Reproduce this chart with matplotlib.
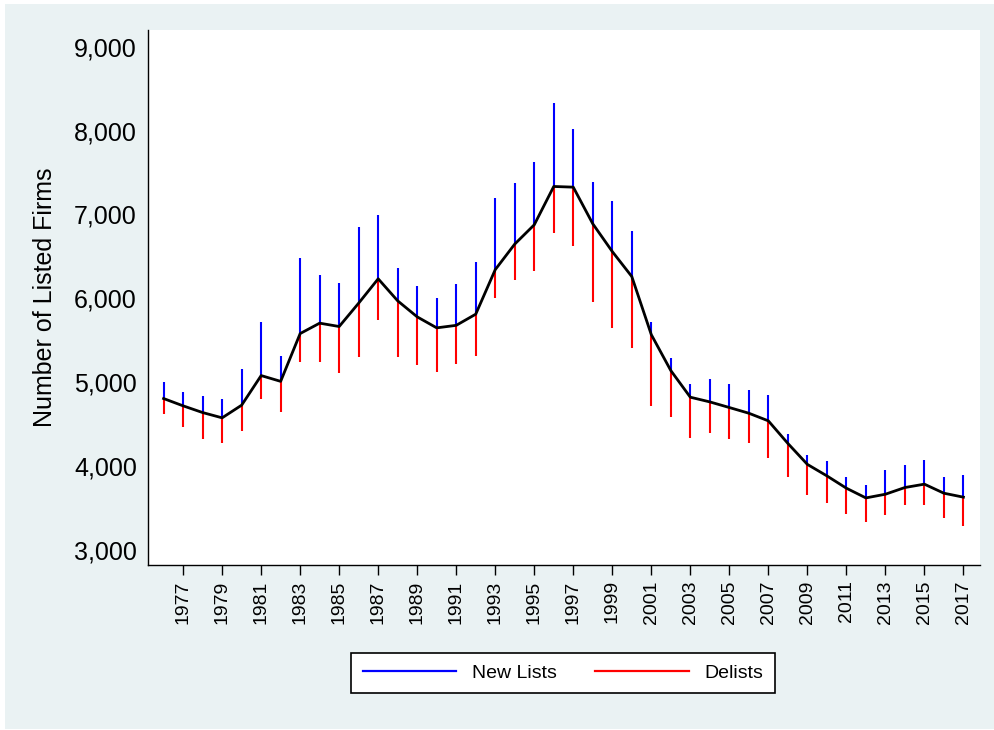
import matplotlib.pyplot as plt
import matplotlib.patches as patches
from matplotlib.ticker import FuncFormatter

plt.rcParams['font.family'] = ['Liberation Sans', 'DejaVu Sans']

# data
years = list(range(1976, 2018))
listed = [4805, 4718, 4638, 4575, 4726, 5079, 5010, 5580, 5704, 5664,
          5943, 6233, 5970, 5779, 5648, 5678, 5811, 6342, 6647, 6877,
          7334, 7326, 6889, 6558, 6260, 5567, 5139, 4821, 4765, 4698,
          4630, 4539, 4270, 4020, 3883, 3736, 3620, 3664, 3744, 3784,
          3676, 3629]
new_lists = [195, 163, 199, 223, 437, 636, 306, 907, 573, 517,
             907, 763, 386, 367, 358, 492, 623, 853, 723, 751,
             995, 693, 497, 605, 542, 151, 148, 163, 271, 279,
             275, 310, 116, 110, 179, 131, 152, 287, 270, 290,
             191, 262]
delists = [183, 247, 314, 299, 303, 281, 364, 337, 469, 553,
           637, 489, 671, 568, 525, 459, 493, 336, 430, 549,
           556, 700, 931, 910, 854, 849, 549, 485, 366, 378,
           357, 438, 401, 370, 326, 307, 286, 243, 203, 251,
           291, 343]
xticks = list(range(1977, 2018, 2))

fig = plt.figure(figsize=(9.95, 7.3), dpi=100)
fig.patch.set_facecolor('white')
# stata-like graph region
fig.patches.append(patches.Rectangle((5 / 995, 1 / 730), 990 / 995, 725 / 730,
                                     transform=fig.transFigure,
                                     facecolor='#eaf2f3', edgecolor='none',
                                     zorder=-10))

ax = fig.add_axes([148 / 995, 165 / 730, 832 / 995, 535 / 730])
ax.set_facecolor('white')

tops = [c + n for c, n in zip(listed, new_lists)]
bots = [c - d for c, d in zip(listed, delists)]
ax.vlines(years, listed, tops, color='#0000ff', lw=1.5, label='New Lists')
ax.vlines(years, bots, listed, color='#ff0000', lw=1.5, label='Delists')
ax.plot(years, listed, color='black', lw=2, zorder=3)

ax.set_xlim(1975.2, 2017.85)
ax.set_ylim(2820, 9200)
ax.set_yticks(range(3000, 9001, 1000))
ax.yaxis.set_major_formatter(FuncFormatter(lambda v, p: f'{int(v):,}'))
ax.set_xticks(xticks)
ax.set_xticklabels([str(y) for y in xticks], rotation=90)

ax.spines['top'].set_visible(False)
ax.spines['right'].set_visible(False)
ax.spines['left'].set_linewidth(1)
ax.spines['bottom'].set_linewidth(1)
ax.tick_params(axis='y', length=0, pad=8, labelsize=18)
ax.tick_params(axis='x', length=7, width=1, pad=4, labelsize=14)
ax.set_ylabel('Number of Listed Firms', fontsize=18, labelpad=12)

handles = [plt.Line2D([], [], color='#0000ff', lw=1.6),
           plt.Line2D([], [], color='#ff0000', lw=1.6)]
leg = fig.legend(handles, ['New Lists', 'Delists'], loc='center',
                 bbox_to_anchor=(563 / 995, 57 / 730), ncol=2,
                 fontsize=14, handlelength=4.8, handletextpad=0.8,
                 columnspacing=2.0, fancybox=False, framealpha=1,
                 edgecolor='black', borderpad=0.6)
leg.get_frame().set_linewidth(1.2)

fig.savefig('out.png', dpi=100, facecolor=fig.get_facecolor())
